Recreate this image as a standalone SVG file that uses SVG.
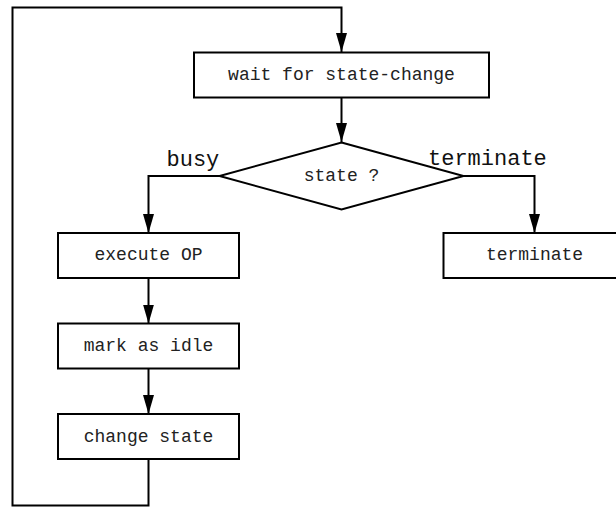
<svg xmlns="http://www.w3.org/2000/svg" width="616" height="507" viewBox="0 0 616 507">
  <style>
    .box { fill: #ffffff; stroke: #000000; stroke-width: 2; }
    .edge { fill: none; stroke: #000000; stroke-width: 2; }
    .lbl { font-family: "Liberation Mono", "Courier New", monospace; font-size: 18px; fill: #222222; text-anchor: middle; }
    .branch { font-family: "Liberation Mono", "Courier New", monospace; font-size: 22px; fill: #111111; }
  </style>
  <defs>
    <marker id="arrow" markerUnits="userSpaceOnUse" markerWidth="19" markerHeight="11" refX="19" refY="5.5" viewBox="0 0 19 11" orient="auto">
      <path d="M0,0 L19,5.5 L0,11 Z" fill="#000000"/>
    </marker>
  </defs>

  <rect x="0" y="0" width="616" height="507" fill="#ffffff"/>

  <!-- connectors -->
  <g id="connectors">
    <path class="edge" d="M148.5,459 V505.5 H12.5 V7.5 H341.5 V52" marker-end="url(#arrow)"/>
    <path class="edge" d="M341.5,97.5 V142" marker-end="url(#arrow)"/>
    <path class="edge" d="M219.5,176 H148.5 V233" marker-end="url(#arrow)"/>
    <path class="edge" d="M463.5,176 H534.5 V233" marker-end="url(#arrow)"/>
    <path class="edge" d="M148.5,278 V323.5" marker-end="url(#arrow)"/>
    <path class="edge" d="M148.5,368.5 V414" marker-end="url(#arrow)"/>
    <text class="branch" x="166.5" y="166">busy</text>
    <text class="branch" x="428" y="165">terminate</text>
  </g>

  <!-- nodes -->
  <g id="wait">
    <rect class="box" x="194" y="52.5" width="295" height="45"/>
    <text class="lbl" x="341.5" y="80">wait for state-change</text>
  </g>
  <g id="state">
    <polygon class="box" points="341.5,142.5 463.5,176 341.5,209.5 219.5,176"/>
    <text class="lbl" x="341.5" y="181">state ?</text>
  </g>
  <g id="execute">
    <rect class="box" x="58" y="233" width="181" height="45"/>
    <text class="lbl" x="148.5" y="260">execute OP</text>
  </g>
  <g id="idle">
    <rect class="box" x="58" y="323.5" width="181" height="45"/>
    <text class="lbl" x="148.5" y="351">mark as idle</text>
  </g>
  <g id="change">
    <rect class="box" x="58" y="414" width="181" height="45"/>
    <text class="lbl" x="148.5" y="442">change state</text>
  </g>
  <g id="terminate">
    <rect class="box" x="443.5" y="233" width="182" height="45"/>
    <text class="lbl" x="534.5" y="260">terminate</text>
  </g>
</svg>
